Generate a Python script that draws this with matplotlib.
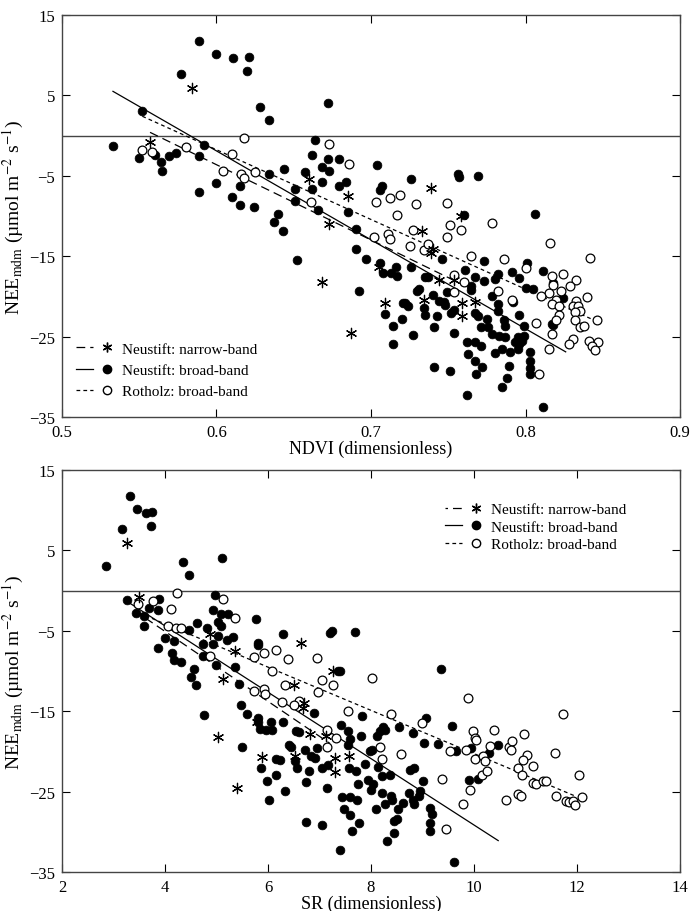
import numpy as np
import matplotlib
matplotlib.use('Agg')
import matplotlib.pyplot as plt
from matplotlib.lines import Line2D
from matplotlib.legend_handler import HandlerTuple

plt.rcParams['font.family'] = ['Liberation Serif', 'DejaVu Serif']
plt.rcParams['mathtext.fontset'] = 'stix'

# ---- top panel: NDVI vs NEE ----
# Neustift broad-band (filled circles)
nb_ndvi = [0.589, 0.600, 0.611, 0.621, 0.620, 0.577, 0.628, 0.634, 0.552, 0.533,
           0.550, 0.560, 0.564, 0.565, 0.569, 0.574, 0.589, 0.592, 0.589, 0.600,
           0.615, 0.610, 0.615, 0.624, 0.634, 0.672, 0.664, 0.662, 0.672, 0.679,
           0.668, 0.673, 0.657, 0.644, 0.668, 0.684, 0.679, 0.662, 0.651, 0.651,
           0.666, 0.685, 0.640, 0.704, 0.726, 0.757, 0.756, 0.706, 0.707, 0.760,
           0.769, 0.806, 0.637, 0.643, 0.652, 0.690, 0.690, 0.697, 0.706, 0.708,
           0.713, 0.716, 0.717, 0.726, 0.692, 0.709, 0.714, 0.714, 0.720, 0.721,
           0.724, 0.727, 0.730, 0.731, 0.735, 0.737, 0.734, 0.735, 0.740, 0.741,
           0.743, 0.744, 0.747, 0.748, 0.749, 0.752, 0.754, 0.754, 0.741, 0.751,
           0.762, 0.762, 0.763, 0.746, 0.761, 0.773, 0.767, 0.773, 0.765, 0.765,
           0.780, 0.782, 0.791, 0.796, 0.801, 0.811, 0.800, 0.805, 0.818, 0.824,
           0.817, 0.818, 0.778, 0.792, 0.782, 0.767, 0.769, 0.775, 0.782, 0.786,
           0.796, 0.799, 0.771, 0.776, 0.778, 0.783, 0.787, 0.795, 0.799, 0.793,
           0.796, 0.798, 0.767, 0.771, 0.780, 0.785, 0.790, 0.795, 0.803, 0.803,
           0.803, 0.803, 0.767, 0.772, 0.768, 0.789, 0.788, 0.785, 0.811, 0.787,
           0.722]
nb_nee = [11.8, 10.1, 9.6, 9.8, 8.0, 7.6, 3.5, 1.9, 3.1, -1.3,
          -2.8, -2.4, -3.3, -4.4, -2.5, -2.2, -2.5, -1.2, -7.0, -5.9,
          -6.3, -7.6, -8.6, -8.9, -4.8, 4.1, -0.5, -2.4, -2.9, -2.9,
          -3.9, -4.4, -4.5, -4.1, -5.8, -5.8, -6.3, -6.6, -6.6, -8.1,
          -9.3, -9.5, -9.7, -3.6, -5.4, -5.1, -4.8, -6.8, -6.3, -9.9,
          -5.0, -9.7, -10.8, -11.9, -15.5, -11.6, -14.1, -15.3, -15.8, -17.1,
          -17.1, -16.3, -17.5, -16.3, -19.3, -22.2, -23.7, -25.9, -22.8, -20.8,
          -21.2, -24.8, -19.3, -19.1, -17.6, -17.6, -21.4, -22.3, -19.8, -23.8,
          -22.4, -20.6, -20.7, -21.1, -19.5, -22.1, -21.7, -24.5, -28.8, -29.3,
          -32.3, -25.7, -27.2, -15.3, -16.7, -15.6, -17.6, -18.1, -18.7, -19.2,
          -17.8, -17.2, -17.0, -17.7, -15.8, -16.8, -19.0, -19.1, -18.3, -20.2,
          -23.4, -23.6, -20.0, -20.7, -20.9, -22.1, -22.4, -22.8, -21.8, -22.9,
          -22.3, -23.7, -23.8, -23.8, -24.7, -24.9, -25.1, -25.0, -24.9, -25.7,
          -25.9, -25.5, -25.7, -26.2, -27.1, -26.5, -26.9, -26.5, -26.9, -28.0,
          -28.9, -29.6, -28.0, -28.8, -29.7, -28.7, -30.2, -31.3, -33.8, -23.7,
          -20.8]

# Neustift narrow-band (stars)
nn_ndvi = [0.584, 0.557, 0.660, 0.685, 0.739, 0.673, 0.668, 0.687, 0.705, 0.709,
           0.733, 0.740, 0.739, 0.734, 0.744, 0.754, 0.759, 0.759, 0.758, 0.767]
nn_nee = [5.9, -0.8, -5.4, -7.5, -6.5, -11.0, -18.2, -24.5, -16.3, -20.8,
          -11.9, -14.1, -14.6, -20.4, -18.0, -18.0, -20.8, -22.5, -10.0, -20.7]

# Rotholz broad-band (open circles)
rb_ndvi = [0.552, 0.558, 0.580, 0.618, 0.610, 0.604, 0.616, 0.618, 0.625, 0.673,
           0.686, 0.661, 0.703, 0.712, 0.719, 0.729, 0.749, 0.717, 0.702, 0.711,
           0.712, 0.725, 0.727, 0.734, 0.737, 0.751, 0.758, 0.749, 0.754, 0.760,
           0.754, 0.765, 0.778, 0.816, 0.842, 0.786, 0.800, 0.782, 0.791, 0.807,
           0.817, 0.818, 0.824, 0.833, 0.829, 0.823, 0.815, 0.810, 0.820, 0.817,
           0.822, 0.833, 0.840, 0.831, 0.834, 0.835, 0.832, 0.822, 0.820, 0.832,
           0.846, 0.835, 0.838, 0.817, 0.831, 0.828, 0.841, 0.847, 0.843, 0.845,
           0.815, 0.809]
rb_nee = [-1.8, -2.0, -1.4, -0.3, -2.3, -4.4, -4.8, -5.3, -4.5, -1.0,
          -3.5, -8.3, -8.3, -7.8, -7.4, -8.5, -8.4, -9.9, -12.6, -12.2,
          -12.9, -13.7, -11.7, -14.2, -13.5, -11.1, -11.7, -12.6, -17.4, -18.2,
          -19.4, -15.0, -10.9, -13.4, -15.2, -15.4, -16.5, -19.3, -20.4, -23.3,
          -17.5, -18.6, -17.2, -18.0, -18.7, -19.3, -19.6, -19.9, -20.5, -21.0,
          -21.2, -20.6, -20.1, -21.2, -21.2, -21.8, -22.0, -22.3, -22.9, -22.9,
          -22.9, -23.8, -23.7, -24.7, -25.3, -25.9, -25.5, -25.7, -26.2, -26.7,
          -26.5, -29.7]

# ---- bottom panel: SR vs NEE ----
nb_sr = [3.33, 3.46, 3.63, 3.75, 3.73, 3.17, 2.86, 4.35, 4.47, 5.11,
         3.27, 3.89, 3.69, 3.87, 3.44, 3.60, 3.60, 4.97, 4.93, 5.09,
         5.22, 5.02, 5.09, 4.62, 4.46, 4.81, 5.33, 5.20, 5.02, 4.93,
         4.73, 4.18, 4.00, 3.87, 4.14, 4.18, 4.32, 4.73, 5.00, 5.35,
         4.57, 4.51, 4.61, 5.44, 5.76, 5.81, 5.80, 6.30, 7.20, 7.24,
         7.69, 7.35, 7.40, 5.47, 5.59, 4.75, 5.81, 5.81, 6.06, 6.29,
         5.85, 5.97, 6.08, 5.50, 6.54, 6.61, 6.89, 6.40, 6.44, 6.72,
         6.96, 6.83, 6.91, 6.16, 6.24, 6.53, 6.56, 5.87, 6.15, 5.99,
         6.33, 6.01, 6.80, 6.73, 7.05, 7.17, 7.15, 7.42, 7.55, 7.60,
         7.55, 7.81, 7.83, 7.58, 7.70, 7.89, 7.74, 7.95, 8.03, 8.00,
         7.43, 7.60, 7.72, 7.48, 7.60, 7.76, 7.63, 6.73, 7.05, 8.10,
         8.21, 8.28, 8.38, 8.41, 8.52, 8.45, 8.50, 8.44, 8.32, 8.14,
         8.21, 8.37, 8.12, 8.17, 8.23, 8.28, 7.98, 8.02, 8.55, 8.82,
         8.76, 8.83, 9.00, 8.62, 8.73, 8.83, 8.82, 8.93, 8.96, 9.14,
         9.18, 9.14, 9.14, 9.03, 9.07, 9.30, 9.35, 9.58, 9.65, 9.94,
         9.91, 10.08, 10.29, 10.47, 9.62, 7.40]
nb_sr_nee = [11.8, 10.1, 9.6, 9.8, 8.0, 7.6, 3.1, 3.5, 1.9, 4.1,
             -1.2, -1.1, -2.2, -2.4, -2.8, -3.2, -4.4, -0.5, -2.4, -2.9,
             -2.9, -3.9, -4.4, -4.0, -4.9, -4.6, -5.8, -6.2, -5.7, -6.6,
             -6.7, -6.3, -5.9, -7.1, -7.8, -8.6, -8.9, -8.2, -9.3, -9.5,
             -9.8, -10.8, -11.8, -11.6, -3.5, -6.5, -6.8, -5.4, -5.3, -5.0,
             -5.1, -10.0, -10.0, -14.2, -15.3, -15.5, -15.8, -16.3, -16.3, -16.3,
             -17.2, -17.3, -17.4, -19.4, -17.5, -17.6, -15.2, -19.2, -19.5, -19.8,
             -19.6, -20.6, -20.8, -20.9, -21.1, -21.2, -22.1, -22.1, -23.0, -23.7,
             -24.9, -26.0, -22.5, -23.8, -22.1, -21.7, -24.5, -16.7, -17.5, -18.5,
             -19.2, -18.1, -15.6, -22.1, -22.4, -21.6, -24.1, -23.5, -24.0, -24.8,
             -25.7, -25.7, -26.1, -27.2, -27.9, -28.9, -29.9, -28.8, -29.2, -27.2,
             -25.2, -26.5, -25.6, -26.1, -27.2, -28.7, -28.4, -30.1, -31.2, -21.9,
             -23.1, -23.0, -18.1, -17.5, -17.0, -17.4, -20.0, -19.8, -17.0, -17.7,
             -22.3, -22.1, -23.7, -26.4, -25.2, -26.5, -26.1, -25.6, -24.9, -27.0,
             -27.8, -28.9, -29.9, -19.0, -15.8, -19.1, -9.7, -16.8, -19.9, -19.6,
             -23.5, -23.4, -20.2, -19.2, -33.8, -32.3]

nn_sr = [3.26, 3.50, 4.88, 5.35, 5.12, 6.65, 6.51, 7.26, 6.70, 6.68,
         5.78, 5.03, 6.82, 7.13, 5.88, 6.52, 7.31, 7.58, 7.31, 5.40]
nn_sr_nee = [5.9, -0.8, -5.4, -7.5, -11.0, -6.5, -11.8, -10.0, -14.0, -14.6,
             -16.3, -18.2, -17.8, -18.1, -20.7, -20.6, -20.8, -20.6, -22.6, -24.5]

rb_sr = [4.23, 3.77, 3.48, 4.12, 5.12, 5.36, 4.05, 4.22, 4.32, 4.88,
         5.73, 5.93, 6.15, 6.39, 6.96, 6.07, 7.04, 7.27, 6.33, 5.93,
         5.72, 5.94, 6.98, 6.28, 6.60, 6.51, 8.01, 7.55, 8.38, 8.99,
         7.15, 7.33, 7.15, 8.17, 8.21, 8.59, 9.37, 9.45, 9.79, 9.89,
         9.98, 10.02, 10.04, 9.54, 9.84, 10.01, 10.18, 10.22, 10.15, 10.25,
         9.93, 10.38, 10.32, 10.67, 10.74, 10.72, 10.98, 11.02, 10.95, 11.15,
         10.86, 10.93, 11.15, 11.21, 11.33, 11.40, 10.63, 10.86, 10.91, 11.57,
         11.73, 12.03, 11.60, 11.78, 11.85, 11.93, 11.97, 12.10]
rb_sr_nee = [-0.3, -1.3, -1.7, -2.3, -1.1, -3.4, -4.4, -4.6, -4.6, -8.2,
             -8.3, -7.8, -7.4, -8.5, -8.4, -10.0, -11.1, -11.7, -11.7, -12.2,
             -12.5, -12.9, -12.6, -13.8, -13.7, -14.2, -10.9, -15.0, -15.4, -16.5,
             -17.3, -18.3, -19.4, -19.4, -21.0, -20.3, -23.4, -29.7, -26.6, -13.4,
             -17.5, -18.3, -18.6, -20.0, -19.8, -20.9, -20.6, -21.2, -22.9, -22.4,
             -24.8, -17.3, -19.3, -19.4, -18.7, -19.8, -17.9, -20.5, -21.1, -21.8,
             -22.1, -23.0, -23.9, -24.1, -23.7, -23.7, -26.0, -25.3, -25.5, -20.2,
             -15.3, -23.0, -25.6, -26.2, -26.3, -26.2, -26.7, -25.7]

# regression lines: (x start, x end), (y start, y end)
top_fit_nb = ([0.533, 0.826], [5.5, -26.9])
top_fit_nn = ([0.557, 0.760], [0.4, -18.6])
top_fit_rb = ([0.552, 0.846], [2.4, -23.1])
bot_fit_nb = ([3.30, 10.47], [-1.5, -31.1])
bot_fit_nn = ([3.50, 7.20], [-2.9, -19.0])
bot_fit_rb = ([3.50, 11.98], [-2.8, -25.6])

labels = ['Neustift: narrow-band', 'Neustift: broad-band', 'Rotholz: broad-band']

fig = plt.figure(figsize=(6.91, 9.12), dpi=100)
ax1 = fig.add_axes([0.0897, 0.5417, 0.8944, 0.4408])
ax2 = fig.add_axes([0.0897, 0.0428, 0.8944, 0.4408])

rb_style = (0, (3, 2.5))
ylab = 'NEE$_{\\mathrm{mdm}}$ (µmol m$^{-2}$ s$^{-1}$)'
star = (6, 2, 0)


def draw(ax, nb, nn, rb, fits, nn_style):
    ax.axhline(0, color='#444444', lw=1.0, zorder=1)
    ax.scatter(nb[0], nb[1], s=40, c='black', edgecolors='black', linewidths=0.5, zorder=3)
    ax.scatter(rb[0], rb[1], s=40, facecolors='white', edgecolors='black', linewidths=0.9, zorder=3)
    ax.scatter(nn[0], nn[1], s=55, marker=star, c='black', linewidths=0.9, zorder=4)
    f_nb, f_nn, f_rb = fits
    ax.plot(f_nn[0], f_nn[1], color='black', lw=0.9, linestyle=nn_style, zorder=2)
    ax.plot(f_nb[0], f_nb[1], color='black', lw=0.9, linestyle='-', zorder=2)
    ax.plot(f_rb[0], f_rb[1], color='black', lw=0.9, linestyle=rb_style, zorder=2)
    ax.set_ylim(-35, 15)
    ax.set_yticks([15, 5, -5, -15, -25, -35])
    ax.tick_params(direction='in', length=6, width=0.8, top=True, right=True, labelsize=12, pad=5)
    for sp in ax.spines.values():
        sp.set_color('#444444')
        sp.set_linewidth(1.0)
    ax.set_ylabel(ylab, fontsize=14, labelpad=2)


def legend_handles(nn_style):
    h_nn = (Line2D([], [], color='black', lw=0.9, linestyle=nn_style),
            Line2D([], [], color='black', marker=star, markersize=7, linestyle='none'))
    h_nb = (Line2D([], [], color='black', lw=0.9),
            Line2D([], [], color='black', marker='o', markersize=6, linestyle='none'))
    h_rb = (Line2D([], [], color='black', lw=0.9, linestyle=rb_style),
            Line2D([], [], markerfacecolor='white', markeredgecolor='black', marker='o',
                   markersize=6, linestyle='none'))
    return [h_nn, h_nb, h_rb]


top_nn_style = (0, (7, 4))
bot_nn_style = (5, (7, 4))

draw(ax1, (nb_ndvi, nb_nee), (nn_ndvi, nn_nee), (rb_ndvi, rb_nee),
     (top_fit_nb, top_fit_nn, top_fit_rb), top_nn_style)
ax1.set_xlim(0.5, 0.9)
ax1.set_xticks([0.5, 0.6, 0.7, 0.8, 0.9])
ax1.set_xticklabels(['0.5', '0.6', '0.7', '0.8', '0.9'])
ax1.set_xlabel('NDVI (dimensionless)', fontsize=13, labelpad=0)

draw(ax2, (nb_sr, nb_sr_nee), (nn_sr, nn_sr_nee), (rb_sr, rb_sr_nee),
     (bot_fit_nb, bot_fit_nn, bot_fit_rb), bot_nn_style)
ax2.set_xlim(2, 14)
ax2.set_xticks([2, 4, 6, 8, 10, 12, 14])
ax2.set_xlabel('SR (dimensionless)', fontsize=13, labelpad=0)

legend_opts = [(ax1, 'lower left', (0.0, 0.012), top_nn_style, 0.5),
               (ax2, 'upper right', (0.935, 0.953), bot_nn_style, 0.25)]
for ax, loc, anchor, style, spacing in legend_opts:
    ax.legend(legend_handles(style), labels, loc=loc, bbox_to_anchor=anchor, frameon=False,
              fontsize=11, handlelength=2.6, handletextpad=0.4, labelspacing=spacing,
              handler_map={tuple: HandlerTuple(ndivide=None, pad=0.4)})

fig.savefig('out.png', dpi=100)
